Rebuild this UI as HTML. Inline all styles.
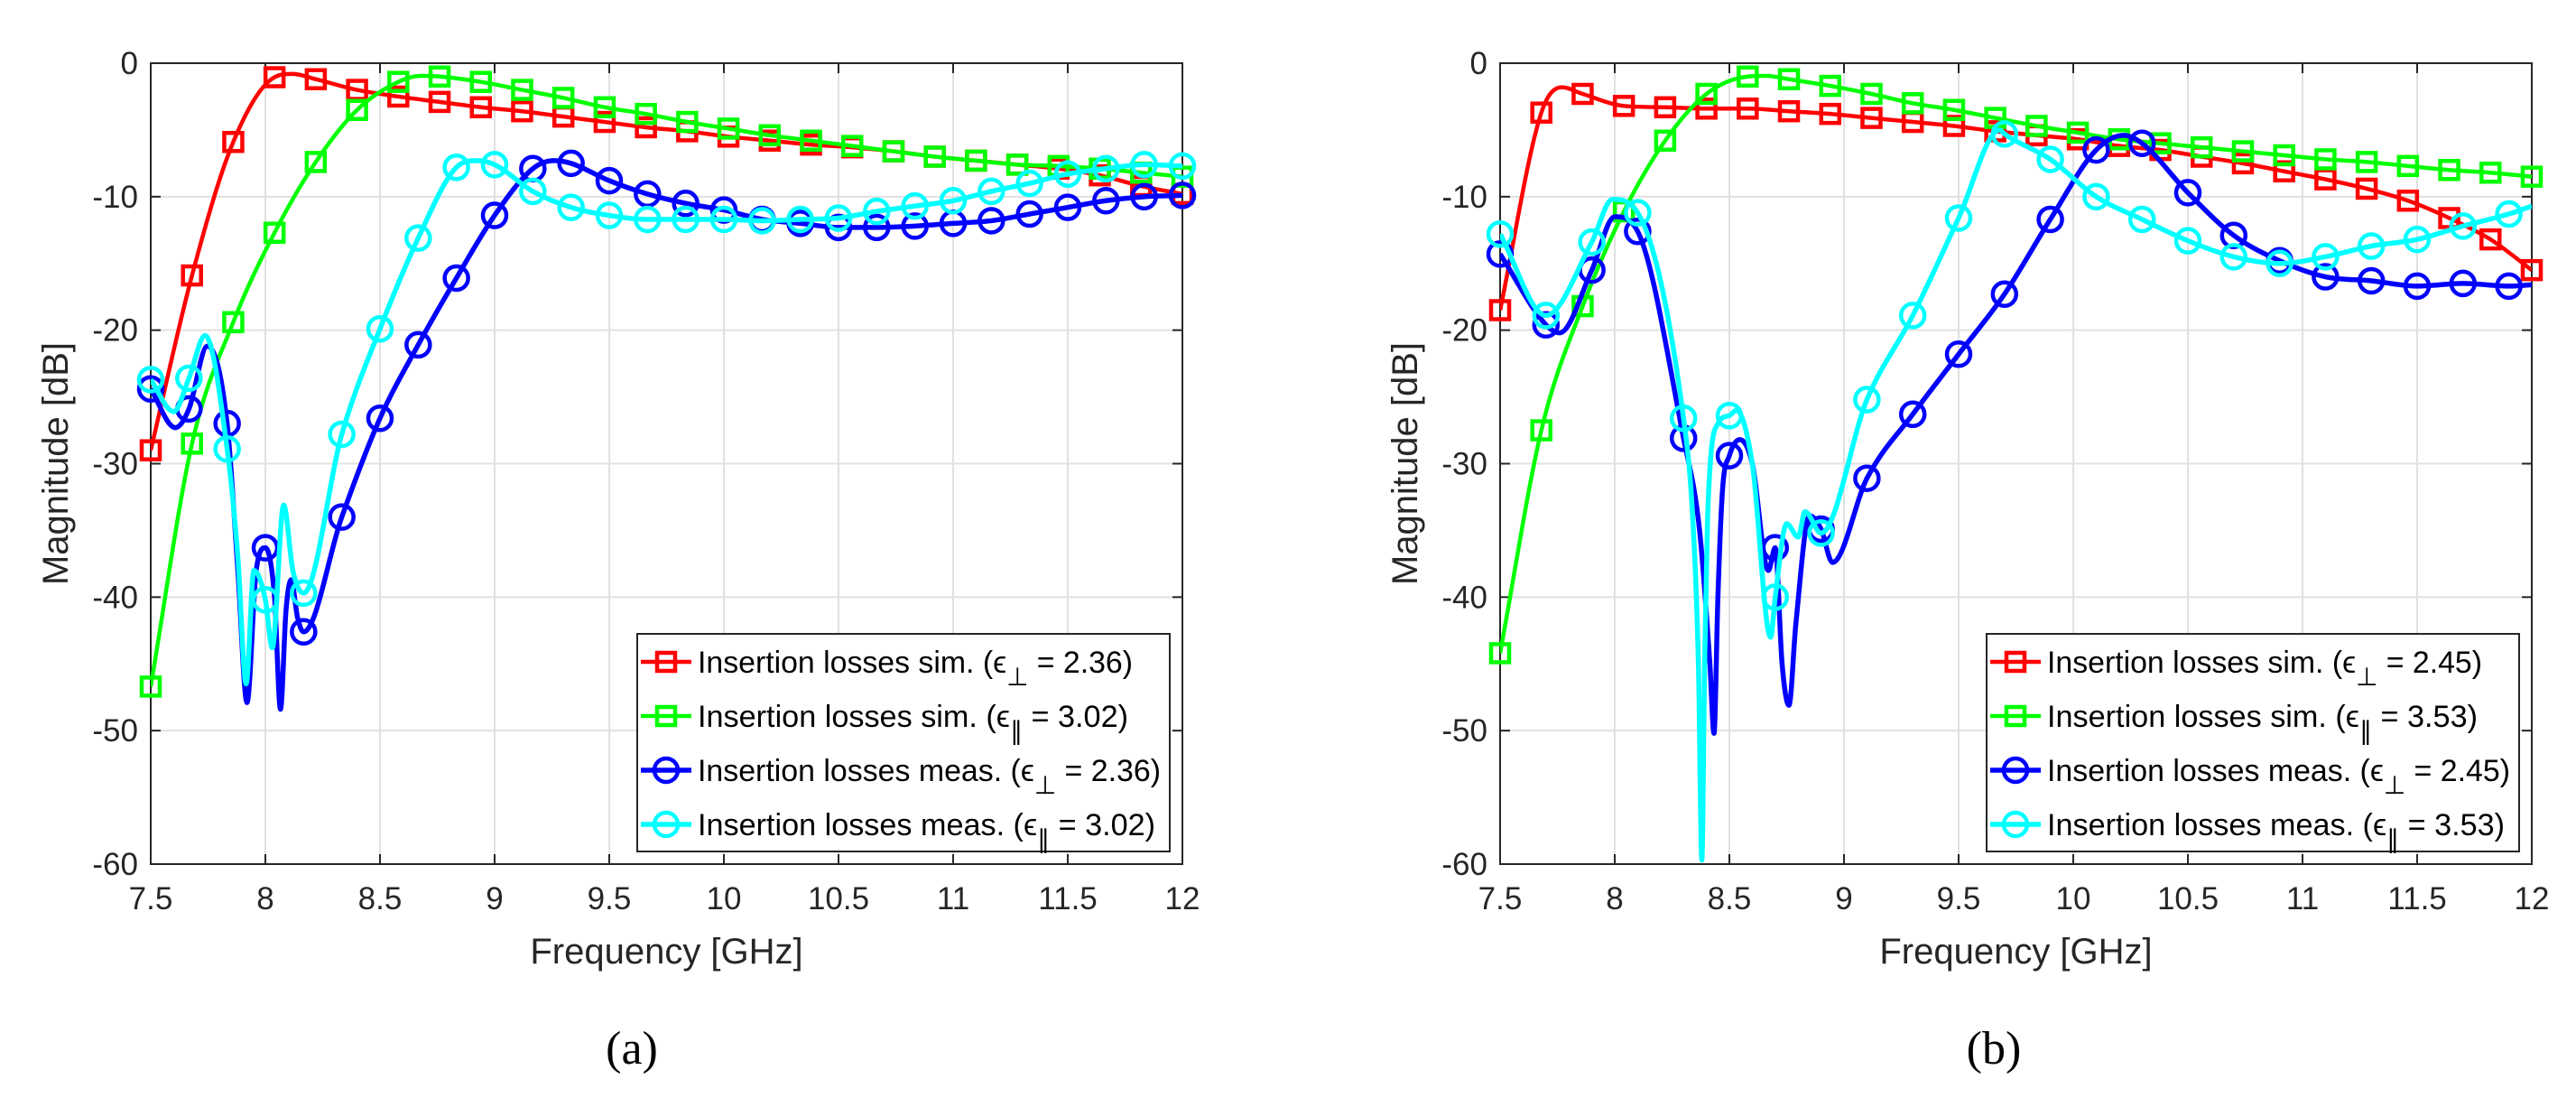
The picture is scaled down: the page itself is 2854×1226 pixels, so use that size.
<!DOCTYPE html>
<html><head><meta charset="utf-8"><style>
html,body{margin:0;padding:0;background:#fff;}
svg{display:block;}
text{font-family:"Liberation Sans",sans-serif;}
text.cap{font-family:"Liberation Serif",serif;}
</style></head>
<body>
<svg id="fig" width="2854" height="1226" viewBox="0 0 2854 1226" xmlns="http://www.w3.org/2000/svg"></svg>
<script>
// ===== Panel (a) data =====
const fMarkSq = [7.5,7.68,7.86,8.04,8.22,8.4,8.58,8.76,8.94,9.12,9.3,9.48,9.66,9.84,10.02,10.2,10.38,10.56,10.74,10.92,11.1,11.28,11.46,11.64,11.82,12.0];
const aRedMark = [-29,-15.9,-5.9,-1.05,-1.2,-2.0,-2.5,-2.9,-3.3,-3.6,-4.0,-4.4,-4.8,-5.1,-5.5,-5.8,-6.1,-6.3,-6.6,-7.0,-7.3,-7.6,-7.9,-8.4,-9.2,-9.8];
const aRedExtraF = [8.12];
const aRedExtraV = [-0.8];
const aGreenMark = [-46.7,-28.5,-19.4,-12.7,-7.4,-3.5,-1.4,-1.0,-1.4,-2.0,-2.6,-3.3,-3.8,-4.4,-4.9,-5.4,-5.8,-6.2,-6.6,-7.0,-7.3,-7.6,-7.7,-7.9,-8.2,-8.5];
const aGreenExtraF = [8.68];
const aGreenExtraV = [-0.95];
const fMarkCircA = [7.5,7.6667,7.8333,8.0,8.1667,8.3333,8.5,8.6667,8.8333,9.0,9.1667,9.3333,9.5,9.6667,9.8333,10.0,10.1667,10.3333,10.5,10.6667,10.8333,11.0,11.1667,11.3333,11.5,11.6667,11.8333,12.0];
const aBlueMark = [-24.4,-25.9,-27,-36.3,-42.6,-34,-26.6,-21.1,-16.1,-11.4,-7.9,-7.5,-8.8,-9.8,-10.5,-11.0,-11.7,-12.0,-12.3,-12.3,-12.2,-12.0,-11.8,-11.3,-10.8,-10.3,-10.0,-9.9];
const aBlueExtraF = [7.607,7.747,7.88,7.92,7.96,8.04,8.066,8.09,8.113,8.14,9.26];
const aBlueExtraV = [-27.3,-21.2,-38,-47.9,-38,-40,-48.4,-41,-38.7,-41.5,-7.3];
const aCyanMark = [-23.7,-23.6,-28.9,-40.2,-39.7,-27.8,-19.9,-13.1,-7.8,-7.6,-9.6,-10.8,-11.4,-11.7,-11.7,-11.7,-11.8,-11.7,-11.6,-11.1,-10.7,-10.3,-9.6,-9.0,-8.3,-7.9,-7.6,-7.7];
const aCyanExtraF = [7.6,7.737,7.88,7.916,7.95,8.03,8.08,8.12,8.92];
const aCyanExtraV = [-26.1,-20.4,-37,-46.5,-38,-43.8,-33.1,-38,-7.3];
const aLegendVals = ["2.36","3.02","2.36","3.02"];

// ===== Panel (b) data =====
const bRedMark = [-18.5,-3.7,-2.3,-3.2,-3.3,-3.4,-3.4,-3.6,-3.8,-4.1,-4.4,-4.7,-5.1,-5.4,-5.7,-6.2,-6.5,-7.0,-7.5,-8.1,-8.7,-9.4,-10.3,-11.6,-13.2,-15.5];
const bRedExtraF = [7.77];
const bRedExtraV = [-1.8];
const bGreenMark = [-44.2,-27.5,-18.2,-11.1,-5.8,-2.3,-1.0,-1.2,-1.7,-2.3,-3.0,-3.5,-4.1,-4.7,-5.2,-5.7,-6.0,-6.3,-6.6,-6.9,-7.2,-7.4,-7.7,-8.0,-8.2,-8.5];
const bGreenExtraF = [8.66];
const bGreenExtraV = [-0.95];
const fMarkCircB = [7.5,7.7,7.9,8.1,8.3,8.5,8.7,8.9,9.1,9.3,9.5,9.7,9.9,10.1,10.3,10.5,10.7,10.9,11.1,11.3,11.5,11.7,11.9];
const bBlueMark = [-14.3,-19.6,-15.5,-12.6,-28.1,-29.4,-36.3,-34.9,-31.1,-26.3,-21.8,-17.3,-11.7,-6.5,-6.0,-9.7,-12.9,-14.8,-16.0,-16.3,-16.7,-16.5,-16.7];
const bBlueExtraF = [7.76,8.0,8.37,8.415,8.433,8.45,8.47,8.545,8.6,8.67,8.73,8.76,8.79,8.85,8.95,10.22,12.0];
const bBlueExtraV = [-20.2,-11.5,-35,-45,-50.2,-40,-32,-28.2,-30,-38,-45,-48.1,-42,-33.9,-37.4,-5.4,-16.6];
const bCyanMark = [-12.8,-18.9,-13.4,-11.2,-26.6,-26.4,-40.0,-35.2,-25.2,-18.9,-11.6,-5.3,-7.2,-10.0,-11.7,-13.3,-14.5,-15.0,-14.5,-13.7,-13.2,-12.2,-11.3];
const bCyanExtraF = [7.99,8.34,8.365,8.38,8.392,8.405,8.45,8.53,8.6,8.68,8.75,8.8,8.83,9.68,12.0];
const bCyanExtraV = [-10.2,-34,-45,-59.7,-45,-34,-27,-26.0,-30,-43,-34.5,-35.5,-33.6,-5.0,-10.7];
const bLegendVals = ["2.45","3.53","2.45","3.53"];

const xTicks = [7.5,8,8.5,9,9.5,10,10.5,11,11.5,12];
const xTickLabels = ["7.5","8","8.5","9","9.5","10","10.5","11","11.5","12"];
const yTicks = [0,-10,-20,-30,-40,-50,-60];
const yTickLabels = ["0","-10","-20","-30","-40","-50","-60"];

const NS = "http://www.w3.org/2000/svg";
const svg = document.getElementById('fig');
function mk(tag, attrs, parent){
  const e = document.createElementNS(NS, tag);
  for (const k in attrs) e.setAttribute(k, attrs[k]);
  (parent||svg).appendChild(e);
  return e;
}
function merge(fx, fy, ex, ey){
  const pts = [];
  for (let i=0;i<fx.length;i++) pts.push([fx[i], fy[i]]);
  for (let i=0;i<ex.length;i++) pts.push([ex[i], ey[i]]);
  pts.sort((a,b)=>a[0]-b[0]);
  return pts;
}
function monoPath(P){
  const n = P.length;
  const d = [], m = [];
  for (let i=0;i<n-1;i++) d.push((P[i+1][1]-P[i][1])/(P[i+1][0]-P[i][0]));
  m.push(d[0]);
  for (let i=1;i<n-1;i++){ m.push(d[i-1]*d[i] <= 0 ? 0 : (d[i-1]+d[i])/2); }
  m.push(d[n-2]);
  for (let i=0;i<n-1;i++){
    if (d[i]===0){ m[i]=0; m[i+1]=0; continue; }
    const a=m[i]/d[i], b=m[i+1]/d[i], s=a*a+b*b;
    if (s>9){ const t=3/Math.sqrt(s); m[i]=t*a*d[i]; m[i+1]=t*b*d[i]; }
  }
  let s = `M${P[0][0].toFixed(2)},${P[0][1].toFixed(2)}`;
  for (let i=0;i<n-1;i++){
    const h = (P[i+1][0]-P[i][0])/3;
    s += ` C${(P[i][0]+h).toFixed(2)},${(P[i][1]+m[i]*h).toFixed(2)} ${(P[i+1][0]-h).toFixed(2)},${(P[i+1][1]-m[i+1]*h).toFixed(2)} ${P[i+1][0].toFixed(2)},${P[i+1][1].toFixed(2)}`;
  }
  return s;
}

function panel(opt){
  const X0=opt.x0, X1=opt.x0+1143, Y0=70, Y1=957;
  const sx = f => X0 + (f-7.5)/4.5*(X1-X0);
  const sy = v => Y0 + (-v)/60*(Y1-Y0);
  const g = mk('g', {});
  
  
  const grid = mk('g', {}, g);
  
  
  xTicks.forEach(t=>{ mk('line',{x1:sx(t),x2:sx(t),y1:Y0,y2:Y1,stroke:'#e1e1e1','stroke-width':2},grid); });
  yTicks.forEach(t=>{ mk('line',{x1:X0,x2:X1,y1:sy(t),y2:sy(t),stroke:'#e1e1e1','stroke-width':2},grid); });
  const ax = mk('g', {}, g);
  
  
  mk('rect',{x:X0,y:Y0,width:X1-X0,height:Y1-Y0,fill:'none',stroke:'#262626','stroke-width':2},ax);
  xTicks.forEach((t,i)=>{
    mk('line',{x1:sx(t),x2:sx(t),y1:Y1,y2:Y1-11,stroke:'#262626','stroke-width':2},ax);
    mk('line',{x1:sx(t),x2:sx(t),y1:Y0,y2:Y0+11,stroke:'#262626','stroke-width':2},ax);
    const tx = mk('text',{x:sx(t),y:1007,'text-anchor':'middle','font-size':35,fill:'#262626'},ax);
    tx.textContent = xTickLabels[i];
    
    
  });
  yTicks.forEach((t,i)=>{
    mk('line',{x1:X0,x2:X0+11,y1:sy(t),y2:sy(t),stroke:'#262626','stroke-width':2},ax);
    mk('line',{x1:X1,x2:X1-11,y1:sy(t),y2:sy(t),stroke:'#262626','stroke-width':2},ax);
    const tx = mk('text',{x:X0-14,y:sy(t)+12,'text-anchor':'end','font-size':35,fill:'#262626'},ax);
    tx.textContent = yTickLabels[i];
    
    
  });
  const xl = mk('text',{x:(X0+X1)/2,y:1067,'text-anchor':'middle','font-size':40,fill:'#262626'},g);
  xl.textContent = 'Frequency [GHz]';
  
  
  const yl = mk('text',{x:0,y:0,'text-anchor':'middle','font-size':40,fill:'#262626',transform:`translate(${X0-92},${(Y0+Y1)/2}) rotate(-90)`},g);
  yl.textContent = 'Magnitude [dB]';
  
  
  const cap = mk('text',{x:opt.capX,y:1178,'text-anchor':'middle','font-size':52,fill:'#000','class':'cap'},g);
  cap.textContent = opt.caption;
  
  

  const clipId = 'clip'+opt.name;
  const cp = mk('clipPath',{id:clipId},g);
  mk('rect',{x:X0,y:Y0-2,width:X1-X0,height:Y1-Y0+4},cp);
  opt.series.forEach(s=>{
    const sg = mk('g',{},g);
    
    
    const pts = merge(s.mf, s.mv, s.ef, s.ev).map(p=>[sx(p[0]), sy(p[1])]);
    const line = mk('path',{d:monoPath(pts),fill:'none',stroke:s.color,'stroke-width':s.lw,'stroke-linejoin':'round','clip-path':`url(#${clipId})`},sg);
    
    
    s.mf.forEach((f,i)=>{
      let m;
      if (s.shape==='sq') m = mk('rect',{x:sx(f)-10,y:sy(s.mv[i])-10,width:20,height:20,fill:'none',stroke:s.color,'stroke-width':4.5},sg);
      else m = mk('circle',{cx:sx(f),cy:sy(s.mv[i]),r:13,fill:'none',stroke:s.color,'stroke-width':4.5},sg);
      
      
    });
  });

  const L = mk('g',{},g);
  
  
  const LX = X0+539, LY=702;
  mk('rect',{x:LX,y:LY,width:590,height:241,fill:'#fff',stroke:'#262626','stroke-width':2},L);
  const labels = [['sim.','⊥'],['sim.','∥'],['meas.','⊥'],['meas.','∥']];
  const widths = [482,477,513,507];
  opt.series.forEach((s,i)=>{
    const e = mk('g',{},L);
    
    
    const cy = LY+31+i*60;
    mk('line',{x1:LX+4,x2:LX+60,y1:cy,y2:cy,stroke:s.color,'stroke-width':s.lw},e);
    if (s.shape==='sq') mk('rect',{x:LX+22,y:cy-10,width:20,height:20,fill:'none',stroke:s.color,'stroke-width':4.5},e);
    else mk('circle',{cx:LX+32,cy:cy,r:13,fill:'none',stroke:s.color,'stroke-width':4.5},e);
    const t = mk('text',{x:LX+67,y:cy+12,'font-size':34,fill:'#000',textLength:widths[i],lengthAdjust:'spacingAndGlyphs'},e);
    const t1 = mk('tspan',{},t); t1.textContent = `Insertion losses ${labels[i][0]} (ϵ`;
    const t2 = mk('tspan',{dy:14,'font-size':28},t); t2.textContent = labels[i][1];
    const t3 = mk('tspan',{dy:-14},t); t3.textContent = ` = ${opt.leg[i]})`;
  });
}

panel({name:'panel-a', x0:167, capX:700, caption:'(a)', leg:aLegendVals, series:[
  {name:'sim-perp-series', color:'#ff0000', lw:4.5, shape:'sq', mf:fMarkSq, mv:aRedMark, ef:aRedExtraF, ev:aRedExtraV},
  {name:'sim-par-series', color:'#00ff00', lw:4.5, shape:'sq', mf:fMarkSq, mv:aGreenMark, ef:aGreenExtraF, ev:aGreenExtraV},
  {name:'meas-perp-series', color:'#0000ff', lw:5.5, shape:'ci', mf:fMarkCircA, mv:aBlueMark, ef:aBlueExtraF, ev:aBlueExtraV},
  {name:'meas-par-series', color:'#00ffff', lw:5.5, shape:'ci', mf:fMarkCircA, mv:aCyanMark, ef:aCyanExtraF, ev:aCyanExtraV}
]});
panel({name:'panel-b', x0:1662, capX:2209, caption:'(b)', leg:bLegendVals, series:[
  {name:'sim-perp-series', color:'#ff0000', lw:4.5, shape:'sq', mf:fMarkSq, mv:bRedMark, ef:bRedExtraF, ev:bRedExtraV},
  {name:'sim-par-series', color:'#00ff00', lw:4.5, shape:'sq', mf:fMarkSq, mv:bGreenMark, ef:bGreenExtraF, ev:bGreenExtraV},
  {name:'meas-perp-series', color:'#0000ff', lw:5.5, shape:'ci', mf:fMarkCircB, mv:bBlueMark, ef:bBlueExtraF, ev:bBlueExtraV},
  {name:'meas-par-series', color:'#00ffff', lw:5.5, shape:'ci', mf:fMarkCircB, mv:bCyanMark, ef:bCyanExtraF, ev:bCyanExtraV}
]});
</script>
</body></html>
